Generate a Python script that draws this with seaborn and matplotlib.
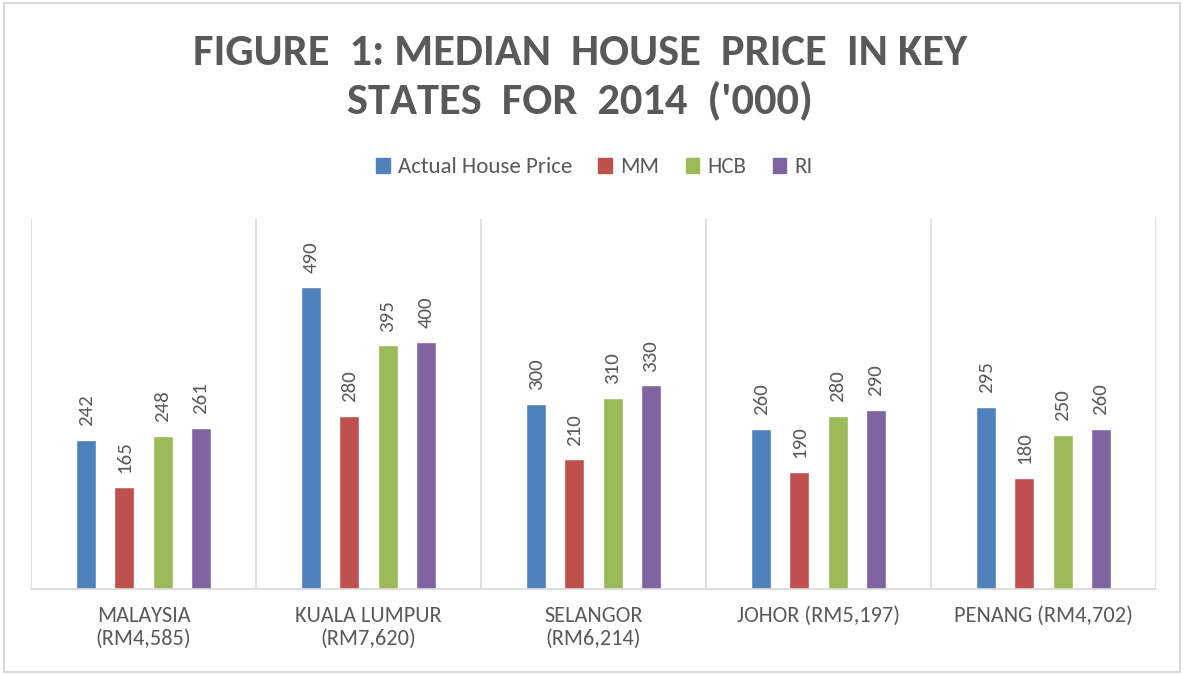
import pandas as pd
import matplotlib.pyplot as plt
import seaborn as sns
from matplotlib import font_manager
from matplotlib.patches import Rectangle, Patch

# dados do gráfico
states = ["MALAYSIA\n(RM4,585)", "KUALA LUMPUR\n(RM7,620)", "SELANGOR\n(RM6,214)",
          "JOHOR (RM5,197)", "PENANG (RM4,702)"]
series = ["Actual House Price", "MM", "HCB", "RI"]
actual = [242, 490, 300, 260, 295]
mm = [165, 280, 210, 190, 180]
hcb = [248, 395, 310, 280, 250]
ri = [261, 400, 330, 290, 260]
colors = ["#4F81BD", "#C0504D", "#9BBB59", "#8064A2"]
title_lines = ["FIGURE  1: MEDIAN  HOUSE  PRICE  IN KEY", "STATES  FOR  2014  ('000)"]

df = pd.DataFrame({"State": states, series[0]: actual, series[1]: mm,
                   series[2]: hcb, series[3]: ri})
df = df.melt(id_vars="State", var_name="Series", value_name="Price")

sns.set_theme(style="white")
available = {f.name for f in font_manager.fontManager.ttflist}
base = "Carlito" if "Carlito" in available else "Open Sans"
plt.rcParams['font.family'] = [base, 'DejaVu Sans']
grey = "#595959"
line = "#D9D9D9"

fig = plt.figure(figsize=(11.84, 6.75), dpi=100)
ax = fig.add_axes([0.0262, 0.1274, 0.9502, 0.5482])
sns.barplot(data=df, x="State", y="Price", hue="Series", palette=colors,
            width=0.68, gap=0.48, ax=ax, legend=False, saturation=1)

for c in ax.containers:
    ax.bar_label(c, rotation=90, padding=10, fontsize=15, color=grey)

ax.set_ylim(0, 600)
ax.set_xlim(-0.5, 4.5)
for x in [-0.5, 0.5, 1.5, 2.5, 3.5, 4.5]:
    ax.axvline(x, color=line, lw=1.2, zorder=0)
ax.set_yticks([])
ax.set_xlabel("")
ax.set_ylabel("")
for s in ["top", "right", "left"]:
    ax.spines[s].set_visible(False)
ax.spines["bottom"].set_color(line)
ax.spines["bottom"].set_linewidth(1.2)
ax.tick_params(axis="x", length=0, pad=12, labelsize=16, labelcolor=grey)

# título em duas linhas
for txt, y in zip(title_lines, [0.921, 0.851]):
    fig.text(0.49, y, txt, ha="center", va="center", fontsize=32,
             fontweight="bold", color=grey)

handles = [Patch(color=c) for c in colors]
fig.legend(handles, series, loc="center", bbox_to_anchor=(0.502, 0.752), ncol=4,
           frameon=False, fontsize=16.5, labelcolor=grey, handlelength=0.6,
           handleheight=0.6, handletextpad=0.35, columnspacing=1.15)

fig.patches.append(Rectangle((0.003, 0.005), 0.994, 0.99, transform=fig.transFigure,
                             fill=False, edgecolor=line, lw=1.5))

fig.savefig("out.png", dpi=100)
